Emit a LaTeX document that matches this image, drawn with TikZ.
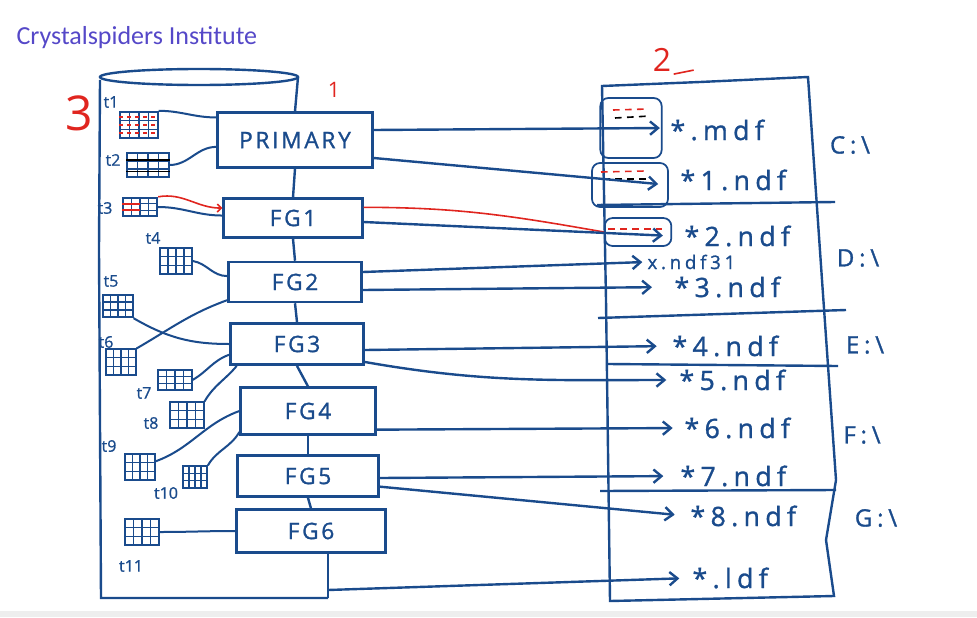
\documentclass[tikz,border=0pt]{standalone}
\usepackage{fontspec}
\setmainfont{Open Sans}
\newfontfamily\titlefont{Carlito}
\newfontfamily\boxfont[LetterSpace=12, FakeBold=1.2]{Open Sans}
\newfontfamily\filefont[LetterSpace=20, FakeBold=1.2]{Open Sans}
\newfontfamily\notefont[FakeBold=1]{Open Sans}
\usetikzlibrary{arrows.meta, calc}
\definecolor{ink}{HTML}{1A4B8C}
\definecolor{penred}{HTML}{E0251F}
\definecolor{titleblue}{HTML}{5548C8}
\definecolor{stripgray}{HTML}{EEEEEE}

\begin{document}
\begin{tikzpicture}[
  x=0.75pt, y=-0.75pt, color=ink, line width=1.8pt,
  every node/.style={inner sep=1pt},
  fgbox/.style={rectangle, draw=ink, line width=1.9pt, inner sep=0pt,
                font=\boxfont\fontsize{17}{20}\selectfont},
  tbl/.style={rectangle, draw=ink, line width=1.3pt, inner sep=0pt,
              path picture={
                \foreach \f in {0.25,0.5,0.75}
                  \draw[line width=1pt]
                    ($(path picture bounding box.north west)!\f!(path picture bounding box.north east)$)
                    -- ($(path picture bounding box.south west)!\f!(path picture bounding box.south east)$);
                \foreach \f in {0.33,0.67}
                  \draw[line width=1pt]
                    ($(path picture bounding box.north west)!\f!(path picture bounding box.south west)$)
                    -- ($(path picture bounding box.north east)!\f!(path picture bounding box.south east)$);
              }},
  tlbl/.style={font=\notefont\fontsize{12}{14}\selectfont},
  file/.style={anchor=west, font=\filefont\fontsize{20}{24}\selectfont},
  drive/.style={font=\filefont\fontsize{18}{22}\selectfont},
  mini/.style={rectangle, rounded corners=6pt, draw=ink, line width=1.3pt},
  arr/.style={-{Straight Barb[length=6pt, width=10pt]}, line width=1.8pt},
  wire/.style={line width=1.5pt},
  redline/.style={penred, line width=1.2pt},
  dashmark/.style={line width=1.2pt, dash pattern=on 5pt off 4pt}
]
\useasboundingbox (0,0) rectangle (977,617);
\fill[stripgray] (0,611) rectangle (977,617);

% Title
\node[anchor=west, text=titleblue, font=\titlefont\fontsize{19.5}{22}\selectfont]
      (title) at (14,38) {Crystalspiders Institute};

% Database
\coordinate (dbtop)  at (298,77);
\coordinate (dbfoot) at (328,598);
\draw (199,77) ellipse [x radius=74.25pt, y radius=6pt];
\draw (100,80) -- (99,250) -- (101,598) -- (dbfoot);

% Filegroups
\node[fgbox, minimum width=116pt, minimum height=41pt] (primary) at (295,140) {PRIMARY};
\node[fgbox, minimum width=104pt, minimum height=29pt] (fg1) at (293,218) {FG1};
\node[fgbox, minimum width=100pt, minimum height=30pt] (fg2) at (295,282) {FG2};
\node[fgbox, minimum width=100pt, minimum height=31pt] (fg3) at (297,344) {FG3};
\node[fgbox, minimum width=101pt, minimum height=35pt] (fg4) at (308,411) {FG4};
\node[fgbox, minimum width=106pt, minimum height=31pt] (fg5) at (308,476) {FG5};
\node[fgbox, minimum width=112pt, minimum height=32pt] (fg6) at (311,531) {FG6};
\draw (dbtop) -- (primary.north);
\draw (primary.south) -- (fg1.north);
\draw (fg1.south) -- (fg2.north);
\draw (fg2.south) -- (fg3.north);
\draw (fg3.south) -- (fg4.north);
\draw (fg4.south) -- (fg5.north);
\draw (fg5.south) -- (fg6.north);
\draw (fg6.south -| dbfoot) -- (dbfoot);

% Tables
\node[tbl, minimum width=28pt, minimum height=20pt] (t1)  at (139,125) {};
\node[tbl, minimum width=31pt, minimum height=18pt] (t2)  at (148,165) {};
\node[tbl, minimum width=26pt, minimum height=14pt] (t3)  at (140,207) {};
\node[tbl, minimum width=24pt, minimum height=20pt] (t4)  at (176,261) {};
\node[tbl, minimum width=22pt, minimum height=17pt] (t5)  at (118,306) {};
\node[tbl, minimum width=22pt, minimum height=19pt] (t6)  at (121,362) {};
\node[tbl, minimum width=25pt, minimum height=15pt] (t7)  at (175,380) {};
\node[tbl, minimum width=25pt, minimum height=19pt] (t8)  at (187,415) {};
\node[tbl, minimum width=22pt, minimum height=19pt] (t9)  at (140,467) {};
\node[tbl, minimum width=18pt, minimum height=16pt] (t10) at (195,477) {};
\node[tbl, minimum width=26pt, minimum height=19pt] (t11) at (142,532) {};
\node[tlbl] (tl1)  at (111,102) {t1};
\node[tlbl] (tl2)  at (113,160) {t2};
\node[tlbl] (tl3)  at (105,208) {t3};
\node[tlbl] (tl4)  at (153,238) {t4};
\node[tlbl] (tl5)  at (111,281) {t5};
\node[tlbl] (tl6)  at (106,342) {t6};
\node[tlbl] (tl7)  at (144,393) {t7};
\node[tlbl] (tl8)  at (151,423) {t8};
\node[tlbl] (tl9)  at (109,446) {t9};
\node[tlbl] (tl10) at (166,493) {t10};
\node[tlbl] (tl11) at (131,566) {t11};
% marks inside tables
\foreach \f in {0.22,0.5,0.78}
  \draw[penred, line width=1pt, dash pattern=on 3pt off 3pt]
    ($(t1.north west)!\f!(t1.south west)$) -- ($(t1.north east)!\f!(t1.south east)$);
\foreach \f in {0.3,0.75}
  \draw[black, line width=1.4pt]
    ($(t2.north west)!\f!(t2.south west)$) -- ($(t2.north east)!\f!(t2.south east)$);
\foreach \f in {0.35,0.65}
  \draw[redline] ($(t3.north west)!\f!(t3.south west)$) -- ($(t3.north)!\f!(t3.south)$);

% Tables to filegroups
\draw[wire] (t1.north east) to[out=0, in=180]   (primary.164);
\draw[wire] (t2.east)       to[out=0, in=180]   (primary.185);
\draw[wire] (t3.east)       to[out=0, in=180]   (fg1.178);
\draw[redline, -{Straight Barb[length=3pt, width=6pt]}]
            (t3.north east) to[out=10, in=180]  (fg1.172);
\draw[wire] (t4.east)       to[out=-10, in=180] (fg2.175);
\draw[wire] (t5.south east) to[out=-30, in=180] (fg3.180);
\draw[wire] (t6.north east) to[out=30, in=200]  (fg2.195);
\draw[wire] (t7.east)       to[out=30, in=200]  (fg3.189);
\draw[wire] (t8.north east) to[out=60, in=230]  (fg3.200);
\draw[wire] (t9.20)         to[out=20, in=200]  (fg4.180);
\draw[wire] (t10.north east) to[out=60, in=240] (fg4.197);
\draw[wire] (t11.east)      to[out=0, in=180]   (fg6.180);

% Drive
\draw (602,86) -- (700,82) -- (808,77) -- (822,280) -- (836,480) -- (826,540)
      -- (834,596) -- (610,601) -- (606,300) -- cycle;
\draw (597,205) -- (835,202);
\draw (598,318) -- (846,310);
\draw (608,364) -- (838,366);
\draw (600,491) -- (836,490);
\node[drive] (dc) at (850,145) {C:\textbackslash};
\node[drive] (dd) at (858,258) {D:\textbackslash};
\node[drive] (de) at (865,345) {E:\textbackslash};
\node[drive] (df) at (862,435) {F:\textbackslash};
\node[drive] (dg) at (876,518) {G:\textbackslash};

% Data files
\node[mini, minimum width=46pt, minimum height=45pt] (mb1) at (631,128) {};
\node[mini, minimum width=57pt, minimum height=33pt] (mb2) at (630,185) {};
\node[mini, minimum width=50pt, minimum height=21pt] (mb3) at (638,232) {};
\draw[penred, dashmark] (613,110) -- (648,109);
\draw[black, dashmark]  (615,118) -- (650,116);
\draw[penred, dashmark] (601,172) -- (645,171);
\draw[black, dashmark]  (603,179) -- (650,179);
\draw[penred, dashmark] (608,229) -- (662,229);
\node[file] (mdf)   at (668,130) {*.mdf};
\node[file] (ndf1)  at (678,180) {*1.ndf};
\node[file] (ndf2)  at (682,236) {*2.ndf};
\node[file, font=\filefont\fontsize{14}{16}\selectfont] (ndf31) at (645,262) {x.ndf31};
\node[file] (ndf3)  at (672,287) {*3.ndf};
\node[file] (ndf4)  at (670,346) {*4.ndf};
\node[file] (ndf5)  at (677,380) {*5.ndf};
\node[file] (ndf6)  at (682,428) {*6.ndf};
\node[file] (ndf7)  at (678,476) {*7.ndf};
\node[file] (ndf8)  at (688,516) {*8.ndf};
\node[file] (ldf)   at (690,578) {*.ldf};

% Filegroups to files
\draw[arr, shorten >=2pt]  ([yshift=7.5pt]primary.east)  -- (mb1.east);
\draw[arr, shorten >=8pt]  ([yshift=-13.5pt]primary.east) -- (mb2.east);
\draw[redline] ([yshift=8pt]fg1.east) to[out=0, in=170] (mb3.west);
\draw[arr, shorten >=7pt]  ([yshift=-3pt]fg1.east)  -- ([yshift=-3pt]mb3.east);
\draw[arr, shorten >=2pt]  ([yshift=7.5pt]fg2.east) -- (ndf31.west);
\draw[arr, shorten >=15pt] ([yshift=-6pt]fg2.east)  -- (ndf3.west);
\draw[arr, shorten >=10pt] ([yshift=-4.5pt]fg3.east) -- (ndf4.west);
\draw[arr, shorten >=8pt]  ([yshift=-13.5pt]fg3.east) to[out=-10, in=180] (ndf5.west);
\draw[arr, shorten >=7pt]  ([yshift=-14pt]fg4.east) -- (ndf6.west);
\draw[arr, shorten >=11pt] ([yshift=-1.5pt]fg5.east) -- (ndf7.west);
\draw[arr, shorten >=10pt] ([yshift=-8pt]fg5.east)  -- (ndf8.west);
\draw[arr, shorten >=8pt]  ([yshift=6pt]dbfoot)     -- (ldf.west);

% Red notes
\node[text=penred, font=\fontsize{36}{36}\selectfont] (n3) at (79,113) {3};
\node[text=penred, font=\fontsize{16}{16}\selectfont] (n1) at (334,90) {1};
\node[text=penred, font=\fontsize{24}{24}\selectfont] (n2) at (662,60) {2};
\draw[redline] (n2.south east) -- ++(20,-4);
\end{tikzpicture}
\end{document}
